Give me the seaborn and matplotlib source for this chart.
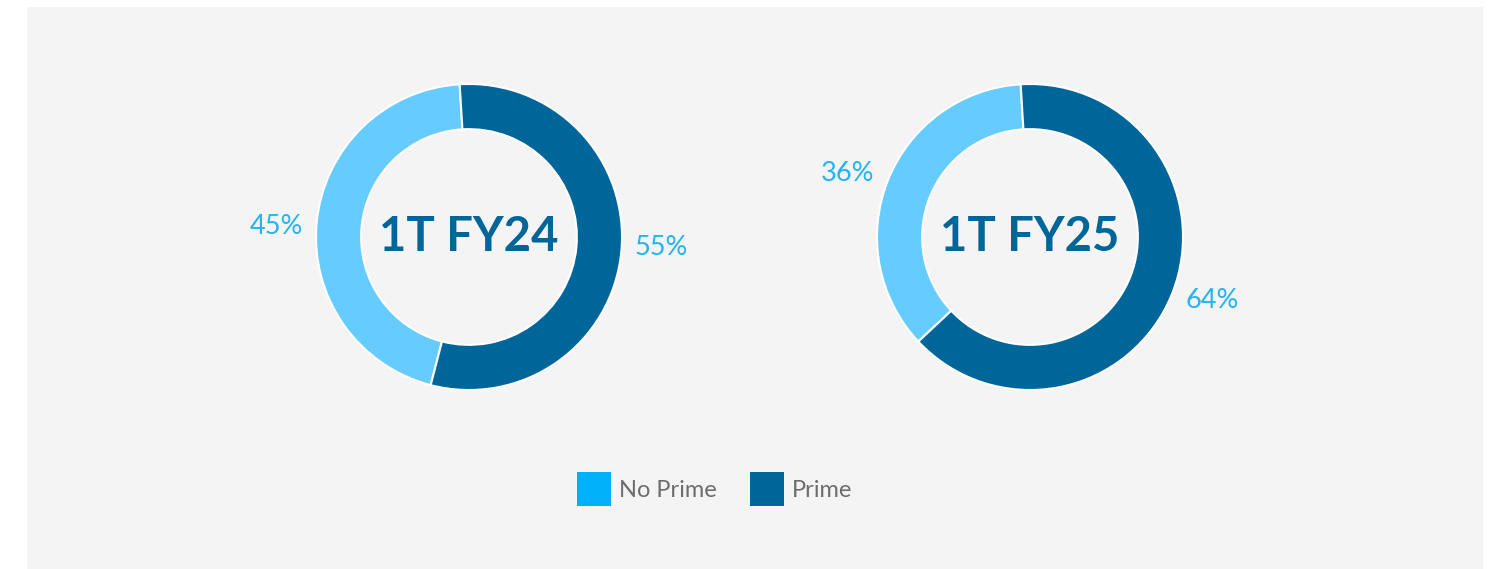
import matplotlib
matplotlib.use("Agg")
import matplotlib.pyplot as plt
from matplotlib.patches import Patch, Rectangle
import numpy as np
import seaborn as sns

# data
segments = ["No Prime", "Prime"]
periods = ["1T FY24", "1T FY25"]
share_fy24 = [45, 55]
share_fy25 = [36, 64]

sns.set_theme(style="white")
plt.rcParams["font.family"] = ["Lato", "DejaVu Sans"]

ring_colors = ["#66ccff", "#006699"]
legend_colors = ["#00b0f8", "#006699"]
pct_color = "#22b4f4"
panel_color = "#f4f4f4"

W, H = 1495, 569
fig = plt.figure(figsize=(W / 100, H / 100), dpi=100, facecolor="white")

# grey panel behind the charts
fig.patches.append(Rectangle((27 / W, 0), (1483 - 27) / W, (H - 7) / H,
                             transform=fig.transFigure, facecolor=panel_color,
                             edgecolor="none", zorder=-5))

radius_px = 153
half = 210


def donut(cx, cy, values, label):
    ax = fig.add_axes([(cx - half) / W, (H - cy - half) / H, 2 * half / W, 2 * half / H])
    ax.set_facecolor("none")
    wedges, _ = ax.pie(
        values,
        colors=ring_colors,
        startangle=93.5,
        radius=1,
        wedgeprops=dict(width=0.295, edgecolor="white", linewidth=1.5),
    )
    # percentage labels outside each wedge
    total = sum(values)
    for w, v in zip(wedges, values):
        ang = np.deg2rad((w.theta1 + w.theta2) / 2 + 2.5)
        ax.text(1.26 * np.cos(ang), 1.26 * np.sin(ang), f"{100 * v / total:.0f}%",
                ha="center", va="center", fontsize=19.5, color=pct_color)
    ax.text(0, 0, label, ha="center", va="center", fontsize=34,
            fontweight="bold", color="#006699")
    lim = half / radius_px
    ax.set_xlim(-lim, lim)
    ax.set_ylim(-lim, lim)
    ax.set_aspect("equal")
    ax.axis("off")


donut(469, 237, share_fy24, periods[0])
donut(1030, 237, share_fy25, periods[1])

handles = [Patch(facecolor=c, edgecolor="none", label=s) for c, s in zip(legend_colors, segments)]
leg = fig.legend(handles=handles, loc="center", bbox_to_anchor=(714.5 / W, (H - 489) / H),
                 ncol=2, frameon=False, fontsize=17, handlelength=1.44, handleheight=1.84,
                 handletextpad=0.35, columnspacing=1.4, borderpad=0)
for t in leg.get_texts():
    t.set_color("#6d6d6d")

fig.savefig("out.png", dpi=100, facecolor="white")
